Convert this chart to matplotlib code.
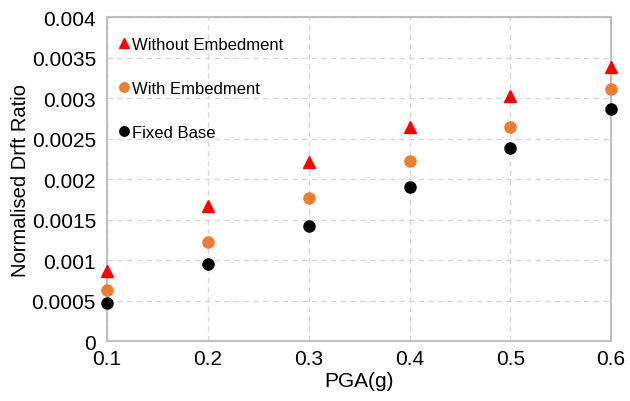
import matplotlib
matplotlib.use("Agg")
import matplotlib.pyplot as plt

plt.rcParams['font.family'] = ['Liberation Sans', 'DejaVu Sans']

pga = [0.1, 0.2, 0.3, 0.4, 0.5, 0.6]
without_emb = [0.00087, 0.00167, 0.00221, 0.00264, 0.00303, 0.00339]
with_emb = [0.00063, 0.00122, 0.00177, 0.00222, 0.00264, 0.00311]
fixed_base = [0.00047, 0.00095, 0.00142, 0.00190, 0.00238, 0.00286]
yticks = [0, 0.0005, 0.001, 0.0015, 0.002, 0.0025, 0.003, 0.0035, 0.004]
ytick_labels = ['0', '0.0005', '0.001', '0.0015', '0.002', '0.0025', '0.003', '0.0035', '0.004']
xticks = [0.1, 0.2, 0.3, 0.4, 0.5, 0.6]

fig = plt.figure(figsize=(6.3, 4.02), dpi=100)
ax = fig.add_axes([0.170, 0.149, 0.800, 0.806])

ax.plot(pga, without_emb, linestyle='none', marker='^', color='#FF0000', markersize=8.5,
        label='Without Embedment', clip_on=False, zorder=3)
ax.plot(pga, with_emb, linestyle='none', marker='o', color='#ED7D31', markersize=8,
        label='With Embedment', clip_on=False, zorder=3)
ax.plot(pga, fixed_base, linestyle='none', marker='o', color='#000000', markersize=8,
        label='Fixed Base', clip_on=False, zorder=3)

ax.set_xlim(0.1, 0.6)
ax.set_ylim(0, 0.004)
ax.set_xticks(xticks)
ax.set_xticklabels([f'{x:.1f}' for x in xticks])
ax.set_yticks(yticks)
ax.set_yticklabels(ytick_labels)
ax.tick_params(axis='both', length=0, labelsize=15, colors='#000000')
ax.tick_params(axis='x', pad=6)
ax.tick_params(axis='y', pad=8)
ax.grid(True, linestyle=(0, (4, 3)), color='#D9D9D9', linewidth=1)
ax.set_axisbelow(True)
for s in ax.spines.values():
    s.set_color('#BFBFBF')
    s.set_linewidth(1.5)

ax.set_xlabel('PGA(g)', fontsize=15, labelpad=2)
ax.set_ylabel('Normalised Drft Ratio', fontsize=14.5, labelpad=1)

leg = ax.legend(loc='upper left', frameon=False, fontsize=12, labelspacing=1.75,
                handlelength=0.6, handletextpad=0.2, borderaxespad=0.3,
                bbox_to_anchor=(0.0, 0.975), markerscale=0.85)

fig.savefig('out.png', dpi=100)
